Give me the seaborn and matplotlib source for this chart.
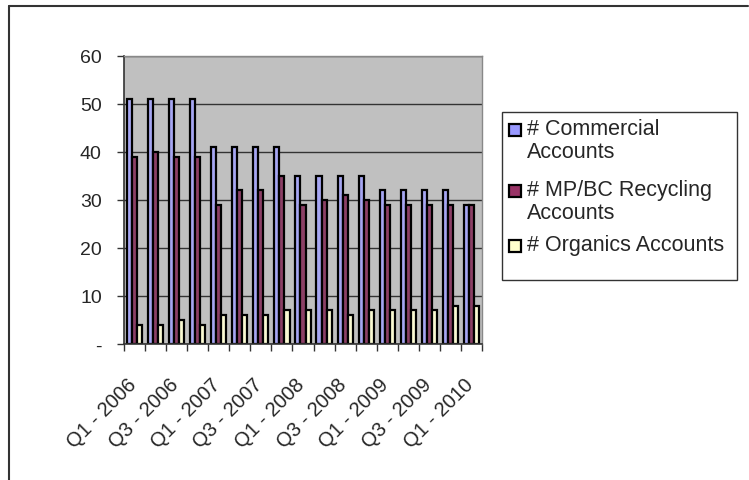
import pandas as pd
import seaborn as sns
import matplotlib.pyplot as plt
import matplotlib.transforms as mtransforms
from matplotlib.lines import Line2D

quarters = ['Q1 - 2006', 'Q2 - 2006', 'Q3 - 2006', 'Q4 - 2006',
            'Q1 - 2007', 'Q2 - 2007', 'Q3 - 2007', 'Q4 - 2007',
            'Q1 - 2008', 'Q2 - 2008', 'Q3 - 2008', 'Q4 - 2008',
            'Q1 - 2009', 'Q2 - 2009', 'Q3 - 2009', 'Q4 - 2009',
            'Q1 - 2010']
commercial = [51, 51, 51, 51, 41, 41, 41, 41, 35, 35, 35, 35, 32, 32, 32, 32, 29]
mpbc = [39, 40, 39, 39, 29, 32, 32, 35, 29, 30, 31, 30, 29, 29, 29, 29, 29]
organics = [4, 4, 5, 4, 6, 6, 6, 7, 7, 7, 6, 7, 7, 7, 7, 8, 8]
series_names = ['# Commercial\nAccounts', '# MP/BC Recycling\nAccounts', '# Organics Accounts']
colors = ['#9999FF', '#993366', '#FFFFCC']

df = pd.concat([
    pd.DataFrame({'quarter': quarters, 'value': vals, 'series': name})
    for name, vals in zip(series_names, [commercial, mpbc, organics])
])

sns.set_style("white")
plt.rcParams['font.family'] = ['Liberation Sans', 'DejaVu Sans']

W, H = 749, 481
fig = plt.figure(figsize=(W / 100, H / 100), dpi=100)
ax = fig.add_axes([124 / W, 1 - 345 / H, (482 - 124) / W, (345 - 57) / H])
sns.barplot(data=df, x='quarter', y='value', hue='series', palette=colors,
            width=0.72, edgecolor='black', linewidth=1.6, ax=ax, legend=False)

ax.set_facecolor('#C0C0C0')
ax.set_ylim(0, 60)
ax.set_xlim(-0.5, len(quarters) - 0.5)
ax.set_yticks(range(0, 61, 10))
ax.set_yticklabels(['-'] + [str(v) for v in range(10, 61, 10)], fontsize=14)
ax.yaxis.grid(True, color='#333333', linewidth=1)
ax.set_axisbelow(True)
ax.tick_params(axis='y', length=5, width=1, color='#333333', left=True, pad=11)

# labels on every other quarter, tick marks between groups
ax.set_xticks(range(0, len(quarters), 2))
ax.set_xticklabels(quarters[::2], rotation=45, ha='right', va='top',
                   rotation_mode='anchor', fontsize=14.5)
ax.set_xticks([i - 0.5 for i in range(len(quarters) + 1)], minor=True)
ax.tick_params(axis='x', which='major', length=0, pad=0)
ax.tick_params(axis='x', which='minor', length=5, width=1, color='#333333', bottom=True)
shift = mtransforms.ScaledTranslation(-8 / 100, -30 / 100, fig.dpi_scale_trans)
for lbl in ax.get_xticklabels():
    lbl.set_transform(lbl.get_transform() + shift)
ax.set_xlabel('')
ax.set_ylabel('')

for side in ['left', 'bottom']:
    ax.spines[side].set_color('#333333')
    ax.spines[side].set_linewidth(1.2)
for side in ['top', 'right']:
    ax.spines[side].set_color('#888888')
    ax.spines[side].set_linewidth(1)

# legend: box with empty space at the bottom, handle beside the first line of each entry
fig.add_artist(plt.Rectangle((502 / W, 1 - 281 / H), (737 - 502) / W, (281 - 113) / H,
                             facecolor='white', edgecolor='#333333', linewidth=1,
                             transform=fig.transFigure))
legend_tops = [119, 180, 235]
for name, col, top in zip(series_names, colors, legend_tops):
    fig.add_artist(plt.Rectangle((509 / W, 1 - (top + 18) / H), 12 / W, 12 / H,
                                 facecolor=col, edgecolor='black', linewidth=1.6,
                                 transform=fig.transFigure))
    fig.text(527 / W, 1 - top / H, name, ha='left', va='top', fontsize=15.5, linespacing=1.1)

# outer chart frame (left and top edges visible)
fig.add_artist(Line2D([9 / W, 9 / W], [0, 1 - 7 / H], color='#333333', linewidth=1.5,
                      transform=fig.transFigure))
fig.add_artist(Line2D([9 / W, 748 / W], [1 - 7 / H, 1 - 7 / H], color='#333333',
                      linewidth=1.5, transform=fig.transFigure))

fig.savefig('out.png', dpi=100)
